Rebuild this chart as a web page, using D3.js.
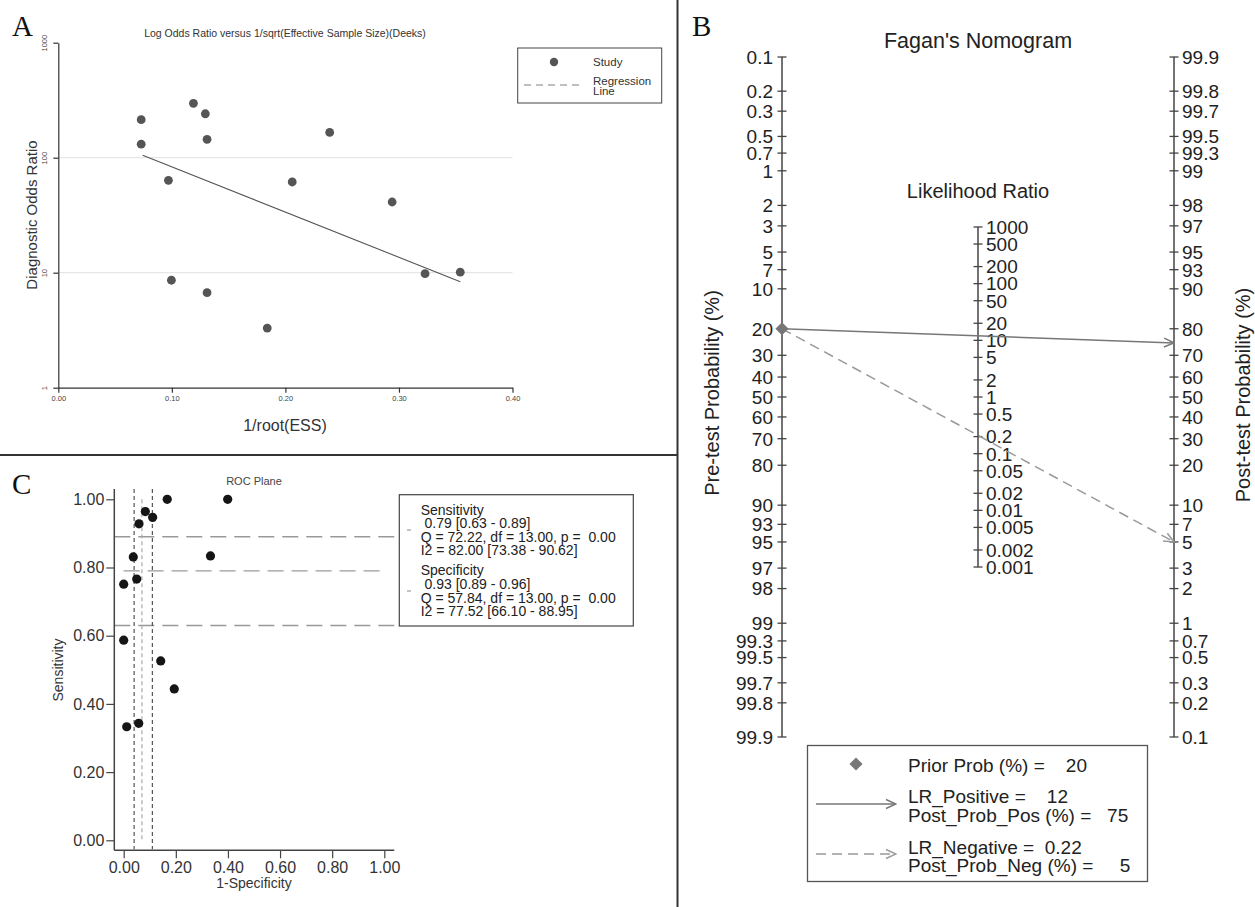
<!DOCTYPE html>
<html><head><meta charset="utf-8">
<script src="https://cdn.jsdelivr.net/npm/d3@7"></script>
<style>
body{margin:0;background:#fff}
svg{display:block;font-family:"Liberation Sans",Arial,Helvetica,sans-serif}
text{white-space:pre}
</style></head><body>
<svg id="fig" width="1255" height="907"></svg>
<script>
// ---------- Panel A: Deeks' funnel plot ----------
const deeksInvRootESS = [0.073, 0.073, 0.097, 0.0996, 0.119, 0.1295, 0.131, 0.131, 0.184, 0.206, 0.239, 0.294, 0.323, 0.354];
const deeksDOR        = [214, 131, 63.6, 8.6, 297, 241, 144.5, 6.7, 3.3, 61.5, 166, 41.2, 9.8, 10.1];
const deeksRegX   = [0.0743, 0.354];
const deeksRegDOR = [105, 8.35];
const deeksXTicks = [0, 0.1, 0.2, 0.3, 0.4];
const deeksYTicks = [1, 10, 100, 1000];
const deeksGrid   = [10, 100];

// ---------- Panel B: Fagan's nomogram ----------
const pretestTicks  = [0.1,0.2,0.3,0.5,0.7,1,2,3,5,7,10,20,30,40,50,60,70,80,90,93,95,97,98,99,99.3,99.5,99.7,99.8,99.9];
const posttestTicks = [99.9,99.8,99.7,99.5,99.3,99,98,97,95,93,90,80,70,60,50,40,30,20,10,7,5,3,2,1,0.7,0.5,0.3,0.2,0.1];
const lrTicks = [1000,500,200,100,50,20,10,5,2,1,0.5,0.2,0.1,0.05,0.02,0.01,0.005,0.002,0.001];
const priorProb = 20;
const lrPositive = 12, postProbPos = 75;
const lrNegative = 0.22, postProbNeg = 5;

// ---------- Panel C: ROC plane ----------
const rocFPR  = [0, 0.0368, 0.05, 0.0587, 0.083, 0.111, 0.167, 0.399, 0.333, 0, 0.142, 0.194, 0.0115, 0.0576];
const rocSens = [0.751, 0.831, 0.766, 0.928, 0.964, 0.947, 1.0, 1.0, 0.834, 0.587, 0.526, 0.444, 0.333, 0.343];
const sensSummary = [0.79, 0.63, 0.89];   // estimate, lower, upper
const specSummary = [0.93, 0.89, 0.96];
const rocTicks = [0, 0.2, 0.4, 0.6, 0.8, 1];
const rocStats = [
  "Sensitivity", " 0.79 [0.63 - 0.89]", "Q = 72.22, df = 13.00, p =  0.00", "I2 = 82.00 [73.38 - 90.62]",
  "Specificity", " 0.93 [0.89 - 0.96]", "Q = 57.84, df = 13.00, p =  0.00", "I2 = 77.52 [66.10 - 88.95]"
];

const svg = d3.select("#fig");
const serif = '"Liberation Serif","Times New Roman",serif';

// panel dividers
svg.append("line").attr("x1",677.5).attr("x2",677.5).attr("y1",0).attr("y2",907).attr("stroke","#333").attr("stroke-width",2);
svg.append("line").attr("x1",0).attr("x2",677.5).attr("y1",455).attr("y2",455).attr("stroke","#333").attr("stroke-width",2);

// panel letters
[["A",12,36],["C",12,494],["B",692,36]].forEach(([t,x,y]) =>
  svg.append("text").attr("x",x).attr("y",y).attr("font-family",serif).attr("font-size",29).attr("fill","#111").text(t));

// ================= Panel A =================
{
  const g = svg.append("g");
  const x = d3.scaleLinear().domain([0,0.4]).range([58.3,512.5]);
  const y = d3.scaleLog().domain([1,1000]).range([387.7,42.7]);

  g.selectAll(".grid").data(deeksGrid).join("line")
    .attr("x1",x(0)).attr("x2",x(0.4)).attr("y1",d=>y(d)).attr("y2",d=>y(d))
    .attr("stroke","#e6e6e6").attr("stroke-width",1.3);

  // axes
  const yAxis = g.append("g").attr("transform",`translate(${x(0)},0)`)
    .call(d3.axisLeft(y).tickValues(deeksYTicks).tickFormat(d3.format("d")).tickSizeInner(5).tickSizeOuter(0));
  yAxis.selectAll("text").attr("x",0).attr("y",-11).attr("dy",0).attr("transform","rotate(-90)")
    .attr("text-anchor","middle").attr("font-size",7.5).attr("fill","#444");
  const xAxis = g.append("g").attr("transform",`translate(0,${y(1)})`)
    .call(d3.axisBottom(x).tickValues(deeksXTicks).tickFormat(d3.format(".2f")).tickSizeInner(5).tickSizeOuter(0));
  xAxis.selectAll("text").attr("font-size",7.5).attr("fill","#444").attr("y",8);
  [yAxis,xAxis].forEach(a=>{a.selectAll("path,line").attr("stroke","#333").attr("stroke-width",1.2);a.attr("font-family",null);});

  // regression line
  g.append("path").datum(deeksRegX.map((v,i)=>[v,deeksRegDOR[i]]))
    .attr("d",d3.line().x(d=>x(d[0])).y(d=>y(d[1])))
    .attr("fill","none").attr("stroke","#555").attr("stroke-width",1.1);

  // studies
  g.selectAll(".pt").data(deeksInvRootESS).join("circle")
    .attr("cx",d=>x(d)).attr("cy",(d,i)=>y(deeksDOR[i])).attr("r",4.4).attr("fill","#555");

  g.append("text").attr("x",285).attr("y",37).attr("text-anchor","middle").attr("font-size",10.5).attr("fill","#333")
    .text("Log Odds Ratio versus 1/sqrt(Effective Sample Size)(Deeks)");
  g.append("text").attr("x",285).attr("y",431).attr("text-anchor","middle").attr("font-size",16).attr("fill","#333")
    .text("1/root(ESS)");
  g.append("text").attr("transform","translate(37,215) rotate(-90)").attr("text-anchor","middle").attr("font-size",15).attr("fill","#333")
    .text("Diagnostic Odds Ratio");

  // legend
  g.append("rect").attr("x",517.7).attr("y",48).attr("width",144).attr("height",55).attr("fill","#fff").attr("stroke","#444").attr("stroke-width",1);
  g.append("circle").attr("cx",554).attr("cy",62).attr("r",4.2).attr("fill","#555");
  g.append("line").attr("x1",524).attr("x2",584).attr("y1",85).attr("y2",85).attr("stroke","#aaa").attr("stroke-width",1.3).attr("stroke-dasharray","7,5");
  [["Study",66],["Regression",84.5],["Line",95]].forEach(([t,yy])=>
    g.append("text").attr("x",593).attr("y",yy).attr("font-size",11.5).attr("fill","#333").text(t));
}

// ================= Panel C =================
{
  const g = svg.append("g");
  const x = d3.scaleLinear().domain([0,1]).range([123.7,384.3]);
  const y = d3.scaleLinear().domain([0,1]).range([840.3,499.3]);
  const left = 114.3, bottom = 850.3, top = 489, right = 394.3;

  // summary sensitivity lines (horizontal)
  g.selectAll(".hci").data([sensSummary[1],sensSummary[2]]).join("line")
    .attr("x1",left).attr("x2",399.3).attr("y1",d=>y(d)).attr("y2",d=>y(d))
    .attr("stroke","#999").attr("stroke-width",1.4).attr("stroke-dasharray","16,8");
  g.append("line").attr("x1",x(0)).attr("x2",x(1)).attr("y1",y(sensSummary[0])).attr("y2",y(sensSummary[0]))
    .attr("stroke","#999").attr("stroke-width",1.4).attr("stroke-dasharray","16,8");

  // summary specificity lines (vertical, on 1 - specificity)
  g.selectAll(".vci").data([1-specSummary[1],1-specSummary[2]]).join("line")
    .attr("x1",d=>x(d)).attr("x2",d=>x(d)).attr("y1",top).attr("y2",bottom-1)
    .attr("stroke","#555").attr("stroke-width",1.2).attr("stroke-dasharray","4,3");
  g.append("line").attr("x1",x(1-specSummary[0])).attr("x2",x(1-specSummary[0])).attr("y1",y(1)).attr("y2",y(0))
    .attr("stroke","#aaa").attr("stroke-width",1.2).attr("stroke-dasharray","4,3");

  // axes
  const yAxis = g.append("g").attr("transform",`translate(${left},0)`)
    .call(d3.axisLeft(y).tickValues(rocTicks).tickFormat(d3.format(".2f")).tickSizeInner(8).tickSizeOuter(0).tickPadding(2));
  const xAxis = g.append("g").attr("transform",`translate(0,${bottom})`)
    .call(d3.axisBottom(x).tickValues(rocTicks).tickFormat(d3.format(".2f")).tickSizeInner(8).tickSizeOuter(0).tickPadding(3));
  [yAxis,xAxis].forEach(a=>{
    a.attr("font-family",null);
    a.select(".domain").remove();
    a.selectAll("line").attr("stroke","#444").attr("stroke-width",1.2);
    a.selectAll("text").attr("font-size",16).attr("fill","#333");
  });
  g.append("line").attr("x1",left).attr("x2",left).attr("y1",top).attr("y2",bottom).attr("stroke","#444").attr("stroke-width",1.5);
  g.append("line").attr("x1",left).attr("x2",right).attr("y1",bottom).attr("y2",bottom).attr("stroke","#444").attr("stroke-width",1.5);

  // studies
  g.selectAll(".pt").data(rocFPR).join("circle")
    .attr("cx",d=>x(d)).attr("cy",(d,i)=>y(rocSens[i])).attr("r",4.6).attr("fill","#151515");

  g.append("text").attr("x",254).attr("y",485).attr("text-anchor","middle").attr("font-size",11).attr("fill","#444").text("ROC Plane");
  g.append("text").attr("x",254).attr("y",888).attr("text-anchor","middle").attr("font-size",14).attr("fill","#333").text("1-Specificity");
  g.append("text").attr("transform","translate(63,670) rotate(-90)").attr("text-anchor","middle").attr("font-size",14).attr("fill","#333").text("Sensitivity");

  // statistics box
  g.append("rect").attr("x",399.3).attr("y",494.7).attr("width",234).attr("height",131.3).attr("fill","#fff").attr("stroke","#444").attr("stroke-width",1.2);
  const lineY = [515, 527.5, 542, 555, 575, 588.5, 603, 616];
  g.selectAll(".stat").data(rocStats).join("text")
    .attr("x",420.7).attr("y",(d,i)=>lineY[i]).attr("font-size",14).attr("fill","#222").text(d=>d);
  [530,591].forEach(yy=>g.append("line").attr("x1",407).attr("x2",411).attr("y1",yy).attr("y2",yy).attr("stroke","#888"));
}

// ================= Panel B =================
{
  const g = svg.append("g");
  const logit = p => Math.log(p/(1-p));
  const yL = d3.scaleLinear().domain([logit(0.001), logit(0.999)]).range([57,737]);
  const xB = d3.scalePoint().domain(["pre","lr","post"]).range([782,1174]);
  const yPre  = p => yL(logit(p/100));
  const yPost = p => yL(-logit(p/100));
  const yLR   = r => yL(-Math.log(r)/2);

  const defs = svg.append("defs");
  [["arrSolid","#777"],["arrDash","#999"]].forEach(([id,c])=>
    defs.append("marker").attr("id",id).attr("markerUnits","userSpaceOnUse").attr("viewBox","0 0 12 12")
      .attr("markerWidth",12).attr("markerHeight",12).attr("refX",11).attr("refY",6).attr("orient","auto")
      .append("path").attr("d","M1,1.5 L11,6 L1,10.5").attr("fill","none").attr("stroke",c).attr("stroke-width",1.5));

  function axis(xc, vals, yf, y0, y1, anchor, dx, fs) {
    g.append("line").attr("x1",xc).attr("x2",xc).attr("y1",y0).attr("y2",y1).attr("stroke","#444").attr("stroke-width",1.5);
    const t = g.append("g").selectAll("g").data(vals).join("g").attr("transform",d=>`translate(${xc},${yf(d)})`);
    t.append("line").attr("x1",-4.5).attr("x2",4.5).attr("stroke","#444").attr("stroke-width",1.3);
    t.append("text").attr("x",dx).attr("dy","0.36em").attr("text-anchor",anchor).attr("font-size",fs).attr("fill","#222").text(d=>String(d));
  }
  axis(xB("pre"), pretestTicks, yPre, yPre(0.1), yPre(99.9), "end", -9, 19);
  axis(xB("post"), posttestTicks, yPost, yPost(99.9), yPost(0.1), "start", 8, 19);
  axis(xB("lr"), lrTicks, yLR, yLR(1000), yLR(0.001), "start", 8, 19);

  g.append("text").attr("x",978).attr("y",48).attr("text-anchor","middle").attr("font-size",21.5).attr("fill","#222").text("Fagan's Nomogram");
  g.append("text").attr("x",978).attr("y",198).attr("text-anchor","middle").attr("font-size",20).attr("fill","#222").text("Likelihood Ratio");
  g.append("text").attr("transform","translate(719,393) rotate(-90)").attr("text-anchor","middle").attr("font-size",20).attr("fill","#222").text("Pre-test Probability (%)");
  g.append("text").attr("transform","translate(1250,395) rotate(-90)").attr("text-anchor","middle").attr("font-size",20).attr("fill","#222").text("Post-test Probability (%)");

  // probability lines
  g.append("line").attr("x1",xB("pre")).attr("y1",yPre(priorProb)).attr("x2",xB("post")).attr("y2",yPost(postProbPos))
    .attr("stroke","#777").attr("stroke-width",1.5).attr("marker-end","url(#arrSolid)");
  g.append("line").attr("x1",xB("pre")).attr("y1",yPre(priorProb)).attr("x2",xB("post")).attr("y2",yPost(postProbNeg))
    .attr("stroke","#999").attr("stroke-width",1.5).attr("stroke-dasharray","10,6").attr("marker-end","url(#arrDash)");
  const diamond = d3.symbol().type(d3.symbolDiamond2).size(110);
  g.append("path").attr("d",diamond()).attr("transform",`translate(${xB("pre")},${yPre(priorProb)})`).attr("fill","#777");

  // legend
  g.append("rect").attr("x",807.5).attr("y",745.5).attr("width",340).attr("height",136).attr("fill","#fff").attr("stroke","#555").attr("stroke-width",1.3);
  g.append("path").attr("d",diamond()).attr("transform","translate(856,764)").attr("fill","#777");
  g.append("line").attr("x1",816).attr("x2",896).attr("y1",804).attr("y2",804).attr("stroke","#777").attr("stroke-width",1.5).attr("marker-end","url(#arrSolid)");
  g.append("line").attr("x1",816).attr("x2",896).attr("y1",854).attr("y2",854).attr("stroke","#999").attr("stroke-width",1.5).attr("stroke-dasharray","10,6").attr("marker-end","url(#arrDash)");
  const legendLines = [
    [`Prior Prob (%) =    ${priorProb}`, 772],
    [`LR_Positive =    ${lrPositive}`, 802.5],
    [`Post_Prob_Pos (%) =   ${postProbPos}`, 822],
    [`LR_Negative =  ${lrNegative}`, 853.5],
    [`Post_Prob_Neg (%) =     ${postProbNeg}`, 872]
  ];
  g.selectAll(".lg").data(legendLines).join("text")
    .attr("x",908).attr("y",d=>d[1]).attr("font-size",19).attr("fill","#222").text(d=>d[0]);
}
</script>
</body></html>
